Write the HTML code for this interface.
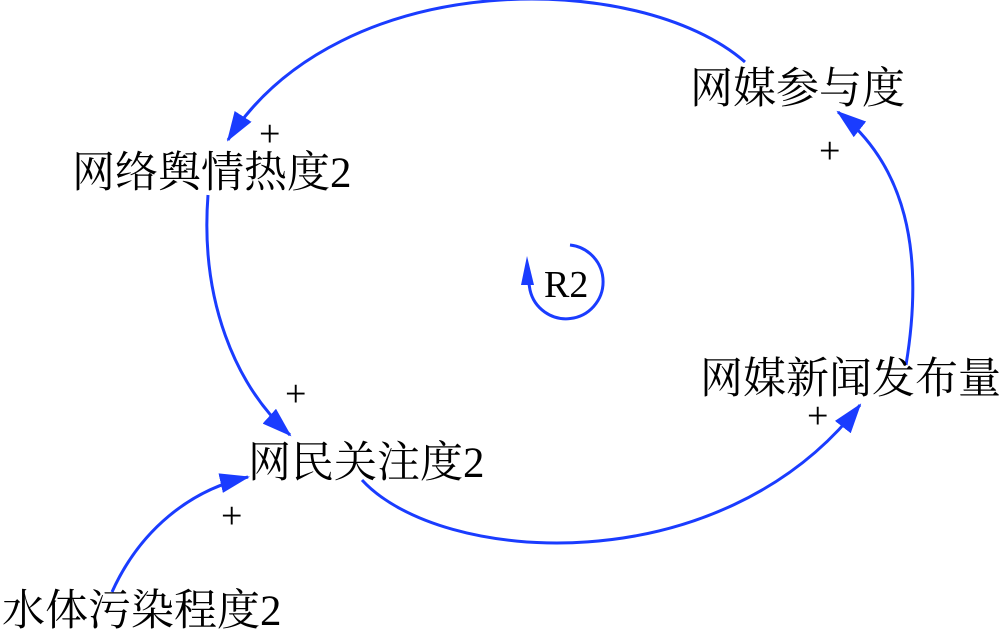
<!DOCTYPE html>
<html><head><meta charset="utf-8"><style>
html,body{margin:0;padding:0;background:#fff;}
svg{display:block;}
text{font-family:"Liberation Serif","Noto Serif CJK SC",serif;fill:#000;}
</style></head><body>
<svg width="1000" height="638" viewBox="0 0 1000 638" xmlns="http://www.w3.org/2000/svg">
<defs>
<marker id="ah" viewBox="0 0 30 20" refX="28" refY="10" markerWidth="30" markerHeight="20" orient="auto" markerUnits="userSpaceOnUse">
<path d="M0,0 L30,10 L0,20 Z" fill="#1a3cff"/>
</marker>
</defs>
<g fill="none" stroke="#1a3cff" stroke-width="3" marker-end="url(#ah)">
<path d="M745,62 C640,-30 340,-35 228,140"/>
<path d="M208,195 C200,300 235,385 290,435"/>
<path d="M362,480 C440,565 720,585 860,405"/>
<path d="M906,365 C925,250 905,165 838,112"/>
<path d="M112,592 C140,530 190,490 248,477"/>
</g>
<path d="M570,245 A37,37 0 1 1 530,290 L527,272" fill="none" stroke="#1a3cff" stroke-width="3"/>
<path d="M521,285 L527,256 L534,285 Z" fill="#1a3cff"/>
<text x="544" y="297" font-size="38">R2</text>
<g font-size="43">
<text x="690" y="103">网媒参与度</text>
<text x="72" y="187">网络舆情热度2</text>
<text x="248" y="477">网民关注度2</text>
<text x="700" y="393">网媒新闻发布量</text>
<text x="2" y="625">水体污染程度2</text>
</g>
<g font-size="38">
<text x="259" y="146">+</text>
<text x="285" y="406">+</text>
<text x="221" y="528">+</text>
<text x="807" y="428">+</text>
<text x="819" y="163">+</text>
</g>
</svg>
</body></html>
